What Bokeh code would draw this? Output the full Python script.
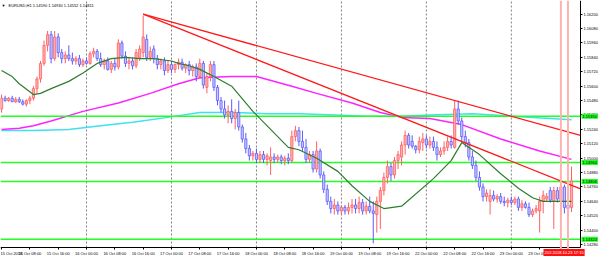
from bokeh.plotting import figure
from bokeh.models import (ColumnDataSource, FixedTicker, PrintfTickFormatter,
                          Range1d, Span, Label)
from bokeh.embed import file_html
from bokeh.resources import INLINE

# ---------------- data (EURUSD H1) ----------------
bar_open = [1.1541,1.1550,1.1548,1.1550,1.1547,1.1549,1.1547,1.1545,1.1548,1.1550,
            1.1558,1.1566,1.1579,1.1594,1.1603,1.1583,1.1601,1.1588,1.1583,1.1586,
            1.1583,1.1581,1.1583,1.1578,1.1581,1.1579,1.1587,1.1589,1.1583,1.1578,
            1.1581,1.1574,1.1579,1.1576,1.1596,1.1585,1.1579,1.1581,1.1577,1.1584,
            1.1588,1.1599,1.1584,1.1591,1.1583,1.1578,1.1581,1.1573,1.1578,1.1574,
            1.1578,1.1580,1.1575,1.1578,1.1573,1.1576,1.1568,1.1579,1.1559,1.1568,
            1.1578,1.1559,1.1548,1.1541,1.1536,1.1539,1.1533,1.1538,1.1526,1.1516,
            1.1508,1.1502,1.1504,1.1499,1.1503,1.1499,1.1498,1.1501,1.1499,1.1501,
            1.1498,1.1500,1.1498,1.1518,1.1523,1.1514,1.1509,1.1499,1.1503,1.1491,
            1.1506,1.1486,1.1474,1.1464,1.1458,1.1461,1.1456,1.1459,1.1456,1.1459,
            1.1461,1.1458,1.1463,1.1456,1.1460,1.1456,1.1453,1.1464,1.1473,1.1484,
            1.1493,1.1486,1.1498,1.1501,1.1511,1.1519,1.1514,1.1510,1.1507,1.1513,
            1.1516,1.1511,1.1514,1.1509,1.1503,1.1506,1.1509,1.1514,1.1509,1.1541,
            1.1531,1.1518,1.1513,1.1501,1.1494,1.1484,1.1476,1.1468,1.1464,1.1469,
            1.1466,1.1468,1.1464,1.1463,1.1465,1.1463,1.1466,1.1459,1.1462,1.1459,
            1.1453,1.1456,1.1456,1.1464,1.1466,1.1473,1.1464,1.1473,1.1464,1.1476,
            1.1461,1.14590]
bar_high = [1.1553,1.1552,1.1551,1.1552,1.1551,1.1551,1.1549,1.1549,1.1552,1.1560,
            1.1568,1.1581,1.1598,1.1606,1.1606,1.1606,1.1604,1.1591,1.1589,1.1594,
            1.1588,1.1585,1.1586,1.1583,1.1584,1.1589,1.1592,1.1591,1.1588,1.1583,
            1.1584,1.1581,1.1583,1.1599,1.1598,1.1589,1.1584,1.1584,1.1591,1.1594,
            1.1619,1.1603,1.1593,1.1594,1.1586,1.1583,1.1584,1.1581,1.1581,1.1579,
            1.1583,1.1583,1.1579,1.1581,1.1578,1.1579,1.1583,1.1581,1.1571,1.1581,
            1.1581,1.1561,1.1551,1.1548,1.1544,1.1549,1.1541,1.1548,1.1528,1.1521,
            1.1511,1.1506,1.1508,1.1506,1.1506,1.1504,1.1509,1.1504,1.1503,1.1503,
            1.1502,1.1504,1.1523,1.1527,1.1526,1.1523,1.1516,1.1506,1.1506,1.1514,
            1.1508,1.1489,1.1478,1.1468,1.1466,1.1464,1.1461,1.1461,1.1463,1.1466,
            1.1466,1.1468,1.1466,1.1464,1.1468,1.1464,1.1468,1.1476,1.1488,1.1498,
            1.1496,1.1501,1.1506,1.1514,1.1523,1.1521,1.1519,1.1511,1.1518,1.1521,
            1.1519,1.1518,1.1518,1.1514,1.1509,1.1514,1.1518,1.1519,1.1548,1.1548,
            1.1534,1.1523,1.1516,1.1506,1.1498,1.1489,1.1479,1.1474,1.1474,1.1473,
            1.1470,1.1471,1.1468,1.1467,1.1468,1.1468,1.1468,1.1465,1.1464,1.1463,
            1.1458,1.1461,1.1468,1.1473,1.1471,1.1476,1.1476,1.1476,1.1479,1.1478,
            1.1466,1.14930]
bar_low = [1.1538,1.1547,1.1547,1.1547,1.1546,1.1546,1.1544,1.1543,1.1545,1.1548,
           1.1554,1.1563,1.1577,1.1589,1.1579,1.1581,1.1584,1.1579,1.1579,1.1581,
           1.1578,1.1578,1.1576,1.1576,1.1578,1.1578,1.1584,1.1581,1.1576,1.1574,
           1.1573,1.1571,1.1573,1.1574,1.1583,1.1576,1.1574,1.1574,1.1575,1.1581,
           1.1584,1.1581,1.1581,1.1579,1.1574,1.1574,1.1569,1.1571,1.1571,1.1571,
           1.1574,1.1573,1.1571,1.1569,1.1568,1.1564,1.1566,1.1558,1.1554,1.1564,
           1.1556,1.1544,1.1538,1.1533,1.1529,1.1529,1.1524,1.1523,1.1513,1.1504,
           1.1498,1.1498,1.1496,1.1496,1.1496,1.1494,1.1486,1.1496,1.1496,1.1495,
           1.1494,1.1495,1.1496,1.1514,1.1510,1.1506,1.1496,1.1496,1.1488,1.1488,
           1.1483,1.1471,1.1461,1.1454,1.1453,1.1453,1.1453,1.1453,1.1453,1.1454,
           1.1454,1.1454,1.1453,1.1453,1.1454,1.1429,1.1438,1.1441,1.1469,1.1479,
           1.1481,1.1483,1.1491,1.1494,1.1503,1.1508,1.1508,1.1504,1.1504,1.1506,
           1.1508,1.1508,1.1506,1.1498,1.1501,1.1503,1.1506,1.1508,1.1508,1.1528,
           1.1514,1.1509,1.1498,1.1491,1.1481,1.1473,1.1464,1.1464,1.1453,1.1464,
           1.1463,1.1462,1.1460,1.1459,1.1461,1.1461,1.1456,1.1456,1.1458,1.1451,
           1.1451,1.1454,1.1438,1.1454,1.1464,1.1463,1.1441,1.1463,1.1453,1.1454,
           1.1451,1.14552]
bar_close = [1.1550,1.1548,1.1550,1.1547,1.1549,1.1547,1.1545,1.1548,1.1550,1.1558,
             1.1566,1.1579,1.1594,1.1603,1.1583,1.1601,1.1588,1.1583,1.1586,1.1583,
             1.1581,1.1583,1.1578,1.1581,1.1579,1.1587,1.1589,1.1583,1.1578,1.1581,
             1.1574,1.1579,1.1576,1.1596,1.1585,1.1579,1.1581,1.1577,1.1588,1.1591,
             1.1601,1.1584,1.1589,1.1583,1.1578,1.1581,1.1573,1.1578,1.1574,1.1578,
             1.1580,1.1575,1.1578,1.1573,1.1576,1.1568,1.1579,1.1561,1.1568,1.1578,
             1.1559,1.1548,1.1541,1.1536,1.1539,1.1533,1.1538,1.1526,1.1516,1.1508,
             1.1502,1.1504,1.1499,1.1503,1.1499,1.1502,1.1501,1.1499,1.1501,1.1498,
             1.1500,1.1498,1.1518,1.1523,1.1514,1.1509,1.1499,1.1503,1.1491,1.1506,
             1.1486,1.1474,1.1464,1.1458,1.1461,1.1456,1.1459,1.1456,1.1459,1.1461,
             1.1458,1.1463,1.1456,1.1460,1.1456,1.1454,1.1464,1.1473,1.1484,1.1493,
             1.1486,1.1498,1.1503,1.1511,1.1519,1.1511,1.1510,1.1507,1.1514,1.1516,
             1.1511,1.1514,1.1509,1.1503,1.1506,1.1509,1.1514,1.1511,1.1541,1.1531,
             1.1518,1.1513,1.1501,1.1494,1.1484,1.1476,1.1468,1.1471,1.1469,1.1466,
             1.1468,1.1464,1.1463,1.1465,1.1463,1.1466,1.1459,1.1462,1.1459,1.1453,
             1.1456,1.1458,1.1464,1.1469,1.1468,1.1465,1.1473,1.1466,1.1476,1.1459,
             1.1458,1.14811]

# moving averages (bar index, price)
ma_fast_bars = [0, 3, 5, 9, 11, 14, 19, 23, 27, 31, 35, 39, 43, 48, 50, 53, 56, 60, 65,
                71, 76, 81, 84, 89, 95, 99, 104, 108, 113, 122, 127, 130, 135, 141, 146,
                150, 153, 161]
ma_fast = [1.1573, 1.1568, 1.1562, 1.1553, 1.1554, 1.1558, 1.1564, 1.1571, 1.1579, 1.1583,
           1.1584, 1.1583, 1.1583, 1.1581, 1.1579, 1.1577, 1.1574, 1.1568, 1.1560,
           1.1539, 1.1524, 1.1509, 1.1507, 1.1500, 1.1489, 1.1477, 1.1464, 1.1458, 1.1460,
           1.1483, 1.1498, 1.1513, 1.1503, 1.1487, 1.1475, 1.1467, 1.1464, 1.1464]
ma_mid_bars = [0, 5, 9, 14, 23, 33, 42, 50, 56, 65, 72, 82, 89, 99, 107, 113, 121, 130,
               141, 152, 161]
ma_mid = [1.1524, 1.1525, 1.1527, 1.1531, 1.1539, 1.1546, 1.1554, 1.1562, 1.1567, 1.1568,
          1.1568, 1.1560, 1.1554, 1.1546, 1.1538, 1.1534, 1.1533, 1.1528, 1.1516, 1.1506,
          1.1499]
ma_slow_bars = [0, 9, 19, 28, 37, 47, 56, 66, 75, 84, 94, 103, 113, 121, 133, 144, 161]
ma_slow = [1.1523, 1.1523, 1.1524, 1.1527, 1.1530, 1.1534, 1.1538, 1.1538, 1.1537, 1.1537,
           1.1536, 1.1535, 1.1535, 1.1536, 1.1537, 1.1535, 1.1532]

# horizontal support / resistance levels
level_prices = [1.15350, 1.14964, 1.14806, 1.14324]
# trend lines: anchor bars and prices
trend1_bars = [40, 128]
trend1_prices = [1.1620, 1.1548]
trend2_bars = [40, 113]
trend2_prices = [1.1620, 1.1534]
# vertical time lines
vline_bars = [158, 160]
vline_texts = ["2018.10.23 14:00", "2018.10.23 17:15"]

# axis ticks
time_ticks = [0, 8, 16, 24, 32, 40, 48, 56, 64, 72, 80, 88, 96, 104, 112, 120, 128, 136,
              144, 152, 160]
time_labels = ["15 Oct 2018", "15 Oct 08:00", "15 Oct 16:00", "16 Oct 00:00",
               "16 Oct 08:00", "16 Oct 16:00", "17 Oct 00:00", "17 Oct 08:00",
               "17 Oct 16:00", "18 Oct 00:00", "18 Oct 08:00", "18 Oct 16:00",
               "19 Oct 00:00", "19 Oct 08:00", "19 Oct 16:00", "22 Oct 00:00",
               "22 Oct 08:00", "22 Oct 16:00", "23 Oct 00:00", "23 Oct 08:00",
               "23 Oct 16:00"]
day_starts = [24, 48, 72, 96, 120, 144]
price_ticks = [1.14280, 1.14400, 1.14520, 1.14640, 1.14760, 1.14880, 1.15000, 1.15120,
               1.15240, 1.15360, 1.15480, 1.15600, 1.15720, 1.15840, 1.15960, 1.16080,
               1.16200]
title_text = "EURUSD,H1  1.14590 1.14930 1.14552 1.14811"

# ---------------- figure ----------------
FONT = "Liberation Sans"
W, H = 600, 256
PX_PER_BAR = 3.54
PX_PER_PRICE = 12000.0
X_START = -0.3
X_END = X_START + W / PX_PER_BAR          # whole canvas width
X_AXIS = X_START + 580 / PX_PER_BAR       # price scale sits at x = 580 px
Y_END = 1.16314
Y_START = Y_END - H / PX_PER_PRICE        # whole canvas height
Y_AXIS = Y_END - 247 / PX_PER_PRICE       # time scale sits at y = 247 px

p = figure(width=W, height=H, output_backend="svg", toolbar_location=None,
           x_range=Range1d(X_START, X_END), y_range=Range1d(Y_START, Y_END),
           x_axis_location="below", y_axis_location="right",
           min_border_left=0, min_border_right=0, min_border_top=0, min_border_bottom=0,
           background_fill_color="white", border_fill_color="white")
p.outline_line_color = None


def style_axis(ax, size="4px"):
    ax.major_label_text_font = FONT
    ax.major_label_text_font_size = size
    ax.major_label_text_color = "black"
    ax.major_tick_out = 2
    ax.major_tick_in = 0
    ax.minor_tick_out = 0
    ax.minor_tick_in = 0
    ax.major_label_standoff = 1
    ax.axis_line_color = "black"
    ax.major_tick_line_color = "black"


xa = p.xaxis[0]
xa.ticker = FixedTicker(ticks=time_ticks)
xa.major_label_overrides = {t: l for t, l in zip(time_ticks, time_labels)}
style_axis(xa)
xa.major_label_text_align = "left"
xa.fixed_location = Y_AXIS
xa.bounds = (X_START, X_AXIS)

ya = p.yaxis[0]
ya.ticker = FixedTicker(ticks=price_ticks)
ya.formatter = PrintfTickFormatter(format="%.5f")
style_axis(ya)
ya.fixed_location = X_AXIS
ya.bounds = (Y_AXIS, Y_END)

p.xgrid.visible = False
p.ygrid.visible = False

# day separators (dashed)
p.segment(x0=day_starts, y0=[Y_AXIS] * len(day_starts), x1=day_starts,
          y1=[Y_END] * len(day_starts), line_color="#808080", line_dash="2 2", line_width=1)

# slow / mid averages under the candles
p.line(ma_slow_bars, ma_slow, line_color="#3fe0f0", line_width=1.5)
p.line(ma_mid_bars, ma_mid, line_color="#ff22ff", line_width=1.5)

# horizontal levels (up to the price scale)
p.segment(x0=[X_START] * len(level_prices), y0=level_prices,
          x1=[X_AXIS] * len(level_prices), y1=level_prices,
          line_color="#22ff22", line_width=1.5)

# vertical time lines
for vb in vline_bars:
    p.add_layout(Span(location=vb, dimension="height", line_color="#ffb0b0", line_width=2))

# candles
idx = list(range(len(bar_close)))
bull = [c >= o for o, c in zip(bar_open, bar_close)]
src = ColumnDataSource(dict(
    x=idx,
    top=[max(o, c) for o, c in zip(bar_open, bar_close)],
    bottom=[min(o, c) for o, c in zip(bar_open, bar_close)],
    high=bar_high, low=bar_low,
    fill=["#ffb0b0" if b else "#c8c8ff" for b in bull],
    edge=["#ff6060" if b else "#5a5aff" for b in bull],
))
p.segment(x0="x", y0="low", x1="x", y1="high", line_color="edge", line_width=1, source=src)
p.vbar(x="x", top="top", bottom="bottom", width=0.62, fill_color="fill",
       line_color="edge", line_width=0.8, source=src)

# fast average over candles
p.line(ma_fast_bars, ma_fast, line_color="#2e7d2e", line_width=1.2)

# trend lines (rays to the price scale)
for tb, tp in ((trend1_bars, trend1_prices), (trend2_bars, trend2_prices)):
    slope = (tp[1] - tp[0]) / (tb[1] - tb[0])
    p.line([tb[0], X_AXIS], [tp[0], tp[0] + slope * (X_AXIS - tb[0])],
           line_color="#ff1a1a", line_width=1.3)

# level price boxes on the price scale
for lv in level_prices:
    p.add_layout(Label(x=581, x_units="screen", y=lv, y_units="data",
                       text=f"{lv:.5f}", text_font=FONT, text_font_size="4px",
                       text_color="black", text_baseline="middle",
                       background_fill_color="#22ff22", padding=1))

# time line labels at the bottom
for k, (vb, vt) in enumerate(zip(vline_bars, vline_texts)):
    p.add_layout(Label(x=543 + 8 * k, x_units="screen", y=4, y_units="screen",
                       text=vt, text_font=FONT, text_font_size="4px",
                       text_color="white", text_baseline="middle",
                       background_fill_color="#ff1010", padding=1))

# header
p.add_layout(Label(x=1, y=H - 5, x_units="screen", y_units="screen", text="\u25bc",
                   text_font_size="4px", text_color="black", text_baseline="middle"))
p.add_layout(Label(x=8, y=H - 5, x_units="screen", y_units="screen", text=title_text,
                   text_font=FONT, text_font_size="4px", text_color="black",
                   text_baseline="middle"))

open("out.html", "w").write(file_html(p, INLINE))
